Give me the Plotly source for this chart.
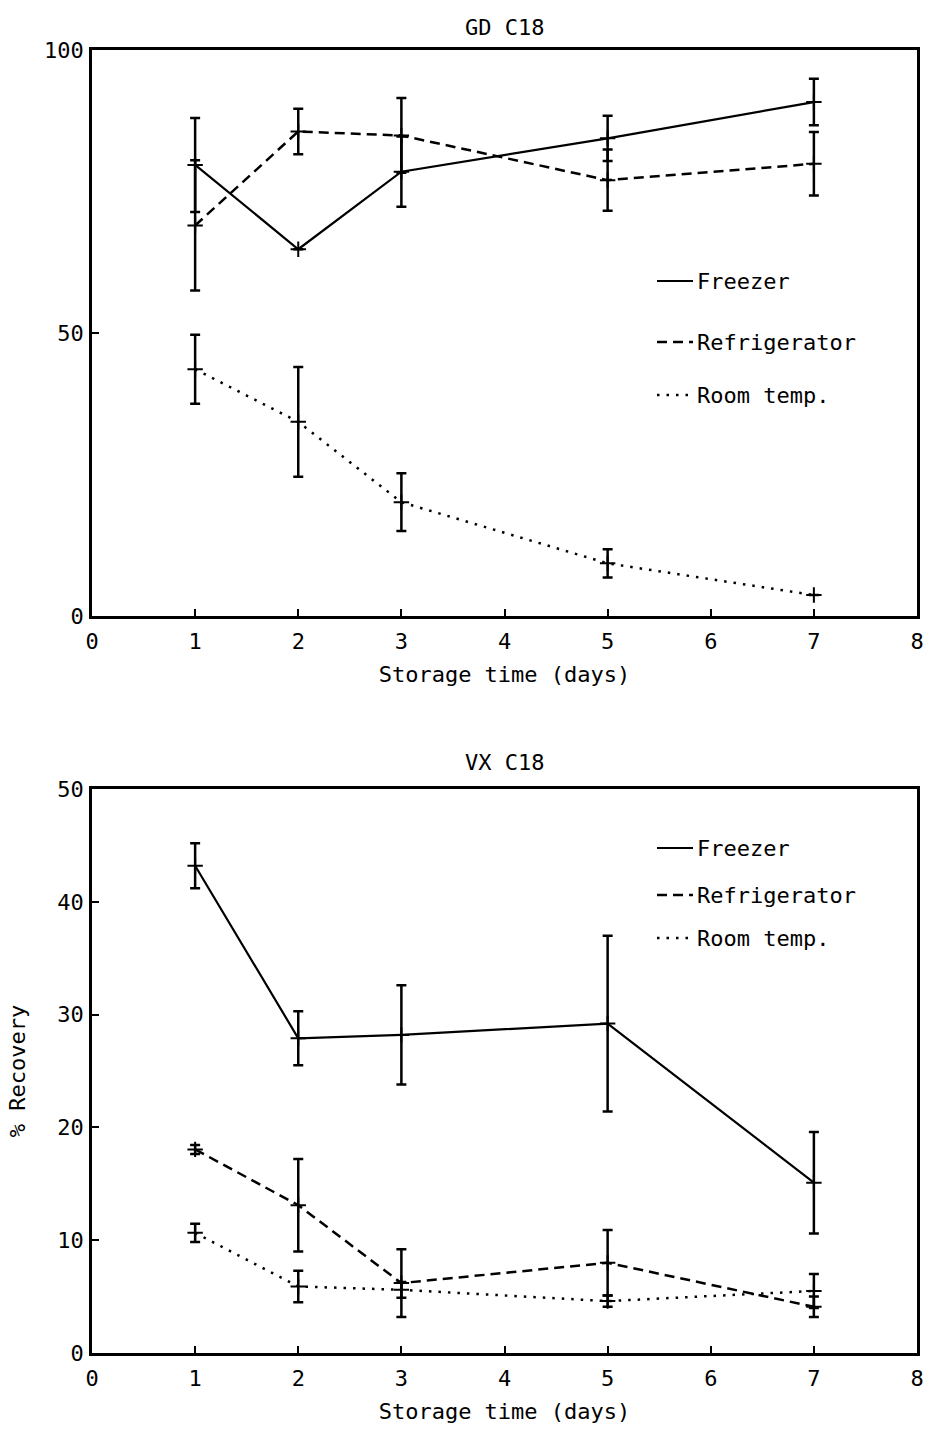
import plotly.graph_objects as go

# ---------------- data ----------------
days = [1, 2, 3, 5, 7]

gd_freezer = [79.7, 64.8, 78.5, 84.4, 90.8]
gd_freezer_err = [8.3, 0.0, 6.2, 4.0, 4.1]
gd_refrig = [69.0, 85.6, 84.9, 77.0, 79.9]
gd_refrig_err = [11.5, 4.0, 6.6, 5.4, 5.6]
gd_room = [43.6, 34.3, 20.1, 9.3, 3.7]
gd_room_err = [6.1, 9.7, 5.1, 2.5, 0.0]

vx_freezer = [43.2, 27.9, 28.2, 29.2, 15.1]
vx_freezer_err = [2.0, 2.4, 4.4, 7.8, 4.5]
vx_refrig = [18.05, 13.1, 6.2, 8.0, 4.1]
vx_refrig_err = [0.4, 4.1, 3.0, 2.9, 0.9]
vx_room = [10.65, 5.9, 5.6, 4.6, 5.5]
vx_room_err = [0.8, 1.4, 0.7, 0.5, 1.5]

series_names = ["Freezer", "Refrigerator", "Room temp."]
x_ticks = [0, 1, 2, 3, 4, 5, 6, 7, 8]
gd_yticks = [0, 50, 100]
vx_yticks = [0, 10, 20, 30, 40, 50]

FONT = "DejaVu Sans Mono"
dashes = ["solid", "10px,6px", "2.5px,7px"]
widths = [2.2, 2.5, 2.5]

fig = go.Figure()

def add_series(y, err, idx, xa, ya):
    fig.add_trace(go.Scatter(
        x=days, y=y, mode="lines+markers", name=series_names[idx],
        xaxis=xa, yaxis=ya, showlegend=False,
        line=dict(color="black", width=widths[idx], dash=dashes[idx]),
        marker=dict(symbol="cross-thin", size=11, line=dict(color="black", width=2)),
        error_y=dict(type="data", array=err, visible=True, color="black",
                     thickness=2.5, width=5),
    ))

add_series(gd_freezer, gd_freezer_err, 0, "x", "y")
add_series(gd_refrig, gd_refrig_err, 1, "x", "y")
add_series(gd_room, gd_room_err, 2, "x", "y")
add_series(vx_freezer, vx_freezer_err, 0, "x2", "y2")
add_series(vx_refrig, vx_refrig_err, 1, "x2", "y2")
add_series(vx_room, vx_room_err, 2, "x2", "y2")

axis_common = dict(
    showline=True, mirror=True, linecolor="black", linewidth=2.5,
    ticks="inside", ticklen=7, tickwidth=2, tickcolor="black",
    showgrid=False, zeroline=False,
    tickfont=dict(family=FONT, size=22, color="black"),
)

W, H = 925, 1431
ML, MR, MT, MB = 92, 8, 50, 78
plot_h = H - MT - MB  # 1303

def px_x(px):
    return (px - ML) / (W - ML - MR)

def px_y(py):
    return (H - MB - py) / plot_h

top_dom = [px_y(616), 1.0]
bot_dom = [0.0, px_y(789)]

fig.update_layout(
    width=W, height=H,
    margin=dict(l=ML, r=MR, t=MT, b=MB, autoexpand=False),
    paper_bgcolor="white", plot_bgcolor="white",
    font=dict(family=FONT, size=21, color="black"),
    xaxis=dict(axis_common, domain=[0, 1], anchor="y", range=[0, 8],
               tickvals=x_ticks, ticklabelstandoff=4,
               title=dict(text="Storage time (days)", standoff=14,
                          font=dict(family=FONT, size=22))),
    yaxis=dict(axis_common, domain=top_dom, anchor="x", range=[0, 100],
               tickvals=gd_yticks, ticklabelstandoff=1),
    xaxis2=dict(axis_common, domain=[0, 1], anchor="y2", range=[0, 8],
                tickvals=x_ticks, ticklabelstandoff=4,
                title=dict(text="Storage time (days)", standoff=14,
                           font=dict(family=FONT, size=22))),
    yaxis2=dict(axis_common, domain=bot_dom, anchor="x2", range=[0, 50],
                tickvals=vx_yticks, ticklabelstandoff=1,
                title=dict(text="% Recovery", standoff=26,
                           font=dict(family=FONT, size=22))),
)

annotations = [
    dict(text="GD C18", x=0.5, y=px_y(27), xref="paper", yref="paper",
         showarrow=False, font=dict(family=FONT, size=22), xanchor="center", yanchor="middle"),
    dict(text="VX C18", x=0.5, y=px_y(762), xref="paper", yref="paper",
         showarrow=False, font=dict(family=FONT, size=22), xanchor="center", yanchor="middle"),
]
shapes = []
legend_rows = [[281, 342, 395], [848, 895, 938]]
for rows in legend_rows:
    for i, py in enumerate(rows):
        annotations.append(dict(text=series_names[i], x=px_x(695), y=px_y(py),
                                xref="paper", yref="paper", showarrow=False,
                                xanchor="left", yanchor="middle",
                                font=dict(family=FONT, size=22)))
        shapes.append(dict(type="line", xref="paper", yref="paper",
                           x0=px_x(657), x1=px_x(693), y0=px_y(py), y1=px_y(py),
                           line=dict(color="black", width=widths[i], dash=dashes[i])))

fig.update_layout(annotations=annotations, shapes=shapes)

fig.write_html(
    "out.html",
    config={"displayModeBar": False},
    post_script="document.body.style.margin='0';document.body.style.overflow='hidden';",
)
